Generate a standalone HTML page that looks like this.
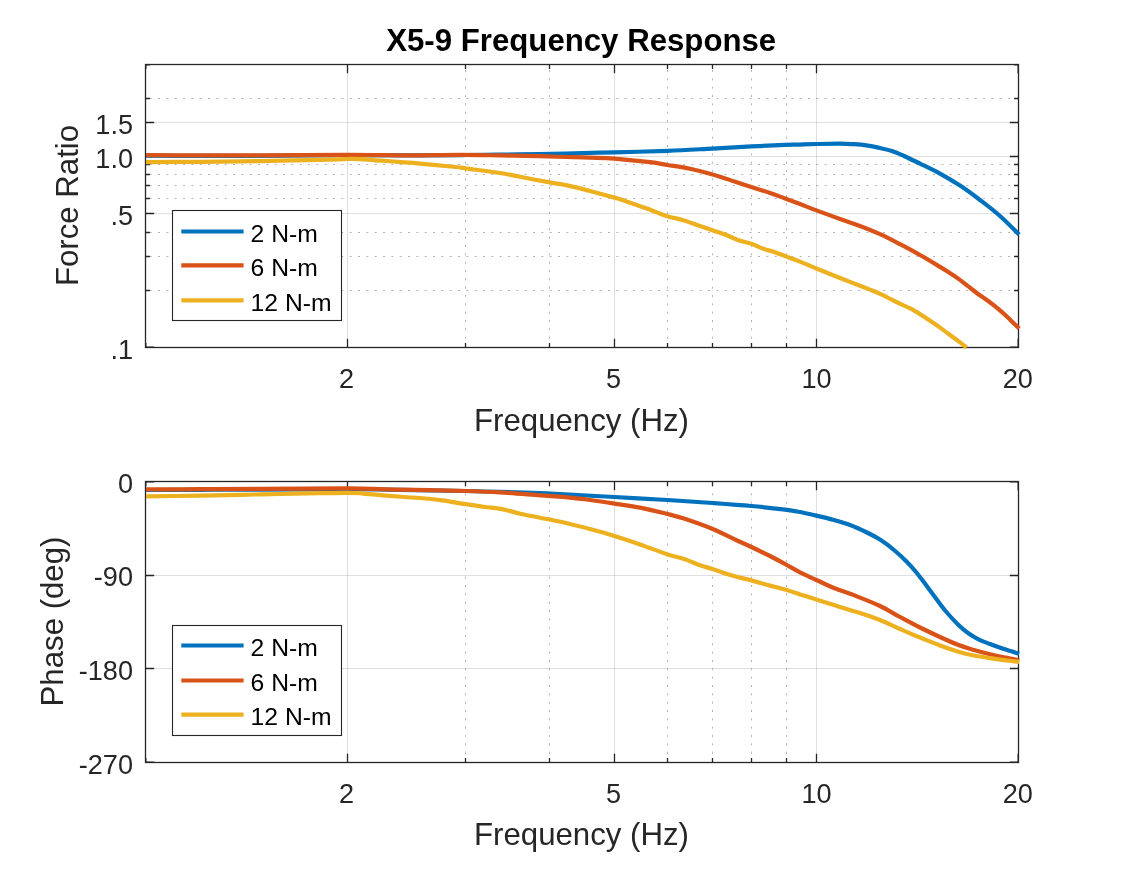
<!DOCTYPE html><html><head><meta charset="utf-8"><title>X5-9 Frequency Response</title>
<style>html,body{margin:0;padding:0;background:#fff;overflow:hidden}svg{display:block}text{font-family:"Liberation Sans",Arial,Helvetica,sans-serif;fill:#262626}.tk{font-size:27.1px}.lb{font-size:31.2px}.lg{font-size:24.7px;fill:#000}.tt{font-size:31.2px;font-weight:bold;fill:#000}</style></head><body>
<svg width="1125" height="875" viewBox="0 0 1125 875">
<rect width="1125" height="875" fill="#fff"/>
<defs><clipPath id="c1"><rect x="146.0" y="64.0" width="877.0" height="288.0"/></clipPath><clipPath id="c2"><rect x="146.0" y="481.0" width="877.0" height="286.0"/></clipPath></defs>
<line x1="347.5" y1="64.5" x2="347.5" y2="347.5" stroke="#262626" stroke-opacity="0.15" stroke-width="1"/>
<line x1="614.5" y1="64.5" x2="614.5" y2="347.5" stroke="#262626" stroke-opacity="0.15" stroke-width="1"/>
<line x1="816.5" y1="64.5" x2="816.5" y2="347.5" stroke="#262626" stroke-opacity="0.15" stroke-width="1"/>
<line x1="145.5" y1="122.5" x2="1018.5" y2="122.5" stroke="#262626" stroke-opacity="0.15" stroke-width="1"/>
<line x1="145.5" y1="156.5" x2="1018.5" y2="156.5" stroke="#262626" stroke-opacity="0.15" stroke-width="1"/>
<line x1="145.5" y1="213.5" x2="1018.5" y2="213.5" stroke="#262626" stroke-opacity="0.15" stroke-width="1"/>
<line x1="465.5" y1="347.0" x2="465.5" y2="64.5" stroke="#262626" stroke-opacity="0.34" stroke-width="1" stroke-dasharray="2 6.333"/>
<line x1="549.5" y1="347.0" x2="549.5" y2="64.5" stroke="#262626" stroke-opacity="0.34" stroke-width="1" stroke-dasharray="2 6.333"/>
<line x1="667.5" y1="347.0" x2="667.5" y2="64.5" stroke="#262626" stroke-opacity="0.34" stroke-width="1" stroke-dasharray="2 6.333"/>
<line x1="712.5" y1="347.0" x2="712.5" y2="64.5" stroke="#262626" stroke-opacity="0.34" stroke-width="1" stroke-dasharray="2 6.333"/>
<line x1="751.5" y1="347.0" x2="751.5" y2="64.5" stroke="#262626" stroke-opacity="0.34" stroke-width="1" stroke-dasharray="2 6.333"/>
<line x1="786.5" y1="347.0" x2="786.5" y2="64.5" stroke="#262626" stroke-opacity="0.34" stroke-width="1" stroke-dasharray="2 6.333"/>
<line x1="145.5" y1="98.5" x2="1018.5" y2="98.5" stroke="#262626" stroke-opacity="0.34" stroke-width="1" stroke-dasharray="2 6.333" stroke-dashoffset="-4.2"/>
<line x1="145.5" y1="164.5" x2="1018.5" y2="164.5" stroke="#262626" stroke-opacity="0.34" stroke-width="1" stroke-dasharray="2 6.333" stroke-dashoffset="-4.2"/>
<line x1="145.5" y1="174.5" x2="1018.5" y2="174.5" stroke="#262626" stroke-opacity="0.34" stroke-width="1" stroke-dasharray="2 6.333" stroke-dashoffset="-4.2"/>
<line x1="145.5" y1="185.5" x2="1018.5" y2="185.5" stroke="#262626" stroke-opacity="0.34" stroke-width="1" stroke-dasharray="2 6.333" stroke-dashoffset="-4.2"/>
<line x1="145.5" y1="198.5" x2="1018.5" y2="198.5" stroke="#262626" stroke-opacity="0.34" stroke-width="1" stroke-dasharray="2 6.333" stroke-dashoffset="-4.2"/>
<line x1="145.5" y1="232.5" x2="1018.5" y2="232.5" stroke="#262626" stroke-opacity="0.34" stroke-width="1" stroke-dasharray="2 6.333" stroke-dashoffset="-4.2"/>
<line x1="145.5" y1="256.5" x2="1018.5" y2="256.5" stroke="#262626" stroke-opacity="0.34" stroke-width="1" stroke-dasharray="2 6.333" stroke-dashoffset="-4.2"/>
<line x1="145.5" y1="290.5" x2="1018.5" y2="290.5" stroke="#262626" stroke-opacity="0.34" stroke-width="1" stroke-dasharray="2 6.333" stroke-dashoffset="-4.2"/>
<rect x="145.5" y="64.5" width="873.0" height="283.0" fill="none" stroke="#262626" stroke-width="1.3"/>
<path d="M347.5 347.5v-8.7M347.5 64.5v8.7M614.5 347.5v-8.7M614.5 64.5v8.7M816.5 347.5v-8.7M816.5 64.5v8.7M465.5 347.5v-4.4M465.5 64.5v4.4M549.5 347.5v-4.4M549.5 64.5v4.4M667.5 347.5v-4.4M667.5 64.5v4.4M712.5 347.5v-4.4M712.5 64.5v4.4M751.5 347.5v-4.4M751.5 64.5v4.4M786.5 347.5v-4.4M786.5 64.5v4.4M145.5 122.5h8.7M1018.5 122.5h-8.7M145.5 156.5h8.7M1018.5 156.5h-8.7M145.5 213.5h8.7M1018.5 213.5h-8.7M145.5 98.5h4.4M1018.5 98.5h-4.4M145.5 164.5h4.4M1018.5 164.5h-4.4M145.5 174.5h4.4M1018.5 174.5h-4.4M145.5 185.5h4.4M1018.5 185.5h-4.4M145.5 198.5h4.4M1018.5 198.5h-4.4M145.5 232.5h4.4M1018.5 232.5h-4.4M145.5 256.5h4.4M1018.5 256.5h-4.4M145.5 290.5h4.4M1018.5 290.5h-4.4M1018.15 64.5v8.7M1018.15 347.5v-8.7M145.85 64.5v4.4M145.85 347.5v-4.4M145.5 347.15h8.7M1018.5 347.15h-8.7M145.5 64.85h4.4M1018.5 64.85h-4.4" stroke="#262626" stroke-width="1.3" fill="none"/>
<g clip-path="url(#c1)" fill="none" stroke-width="4.2" stroke-linejoin="round">
<path d="M145.5 155.7 C154.6 155.7 180.9 155.8 200.0 155.8 C219.1 155.8 235.4 155.9 260.0 155.8 C284.6 155.7 320.8 155.3 347.5 155.2 C374.2 155.1 400.3 155.3 420.0 155.3 C439.7 155.3 452.3 155.1 465.6 155.0 C478.9 154.9 487.6 154.9 500.0 154.7 C512.4 154.5 529.2 154.2 540.0 154.0 C550.8 153.8 552.6 153.8 565.0 153.5 C577.4 153.2 597.3 152.8 614.4 152.4 C631.5 152.0 651.2 151.4 667.6 150.8 C684.0 150.2 698.6 149.3 712.6 148.6 C726.6 147.9 739.3 147.0 751.4 146.4 C763.5 145.8 776.9 145.2 785.0 144.9 C793.1 144.6 794.8 144.8 800.0 144.6 C805.2 144.4 809.7 144.2 816.4 144.0 C823.1 143.8 833.7 143.6 840.0 143.6 C846.3 143.6 849.3 143.9 854.0 144.2 C858.7 144.5 863.7 145.0 868.0 145.6 C872.3 146.2 876.0 147.1 880.0 148.0 C884.0 148.9 888.0 149.7 892.0 151.0 C896.0 152.3 899.3 153.9 904.0 156.0 C908.7 158.1 914.0 160.7 920.0 163.6 C926.0 166.5 933.3 169.9 940.0 173.6 C946.7 177.3 953.3 181.2 960.0 185.6 C966.7 190.0 973.3 194.9 980.0 200.0 C986.7 205.1 993.5 210.2 1000.0 216.0 C1006.5 221.8 1016.0 231.5 1019.2 234.6" stroke="#0072BD"/>
<path d="M145.5 155.2 C154.6 155.2 180.9 155.3 200.0 155.3 C219.1 155.3 235.4 155.4 260.0 155.3 C284.6 155.2 324.2 154.8 347.5 154.8 C370.8 154.8 387.9 155.2 400.0 155.3 C412.1 155.4 410.0 155.5 420.0 155.4 C430.0 155.3 446.7 154.9 460.0 154.9 C473.3 154.9 486.7 155.2 500.0 155.4 C513.3 155.6 529.2 155.9 540.0 156.2 C550.8 156.5 556.7 156.8 565.0 157.0 C573.3 157.2 581.8 157.3 590.0 157.6 C598.2 157.9 604.4 157.8 614.4 158.6 C624.4 159.4 641.1 161.1 650.0 162.2 C658.9 163.3 660.9 163.9 667.6 165.0 C674.3 166.1 682.5 167.2 690.0 168.8 C697.5 170.4 704.9 172.2 712.6 174.4 C720.3 176.6 729.5 179.9 736.0 182.0 C742.5 184.1 745.7 185.2 751.4 187.0 C757.1 188.8 764.4 191.1 770.0 193.0 C775.6 194.9 780.0 196.6 785.0 198.4 C790.0 200.2 794.8 202.0 800.0 204.0 C805.2 206.0 809.7 207.9 816.4 210.4 C823.1 212.9 832.7 216.4 840.0 219.0 C847.3 221.6 853.3 223.5 860.0 226.0 C866.7 228.5 873.3 231.2 880.0 234.2 C886.7 237.2 893.3 240.7 900.0 244.2 C906.7 247.7 913.3 251.2 920.0 255.0 C926.7 258.8 935.2 264.0 940.0 266.9 C944.8 269.8 945.5 270.3 948.6 272.3 C951.8 274.3 955.6 276.8 958.9 279.1 C962.2 281.5 965.2 284.0 968.3 286.4 C971.4 288.8 974.6 291.4 977.7 293.7 C980.8 296.0 984.2 298.1 987.1 300.2 C990.0 302.3 992.3 304.0 994.9 306.1 C997.5 308.2 1000.0 310.3 1002.6 312.6 C1005.2 314.9 1007.5 317.2 1010.3 319.9 C1013.1 322.6 1017.7 327.1 1019.2 328.6" stroke="#D95319"/>
<path d="M145.5 162.2 C154.6 162.1 180.9 162.0 200.0 161.8 C219.1 161.6 240.0 161.4 260.0 161.1 C280.0 160.8 305.4 160.2 320.0 159.9 C334.6 159.6 340.8 159.1 347.5 159.0 C354.2 158.9 354.6 158.9 360.0 159.2 C365.4 159.5 370.0 159.9 380.0 160.6 C390.0 161.3 407.3 162.5 420.0 163.6 C432.7 164.7 448.4 166.2 456.0 167.0 C463.6 167.8 458.3 167.4 465.6 168.4 C472.9 169.4 490.9 171.6 500.0 173.0 C509.1 174.4 511.7 175.2 520.0 176.8 C528.3 178.4 542.1 181.0 549.6 182.4 C557.1 183.8 559.9 184.0 565.0 185.0 C570.1 186.0 571.8 186.3 580.0 188.4 C588.2 190.5 607.7 195.8 614.4 197.6 C621.1 199.4 615.1 197.6 620.0 199.3 C624.9 201.0 637.9 205.4 644.0 207.6 C650.1 209.8 652.8 210.9 656.8 212.4 C660.8 213.9 663.5 215.1 668.0 216.4 C672.5 217.7 678.7 218.8 684.0 220.4 C689.3 222.0 695.3 224.4 700.0 226.0 C704.7 227.6 708.0 228.7 712.3 230.2 C716.6 231.7 721.2 233.1 725.6 234.8 C730.0 236.5 734.1 238.7 738.4 240.2 C742.7 241.7 746.9 242.3 751.2 243.8 C755.5 245.3 760.3 247.7 764.0 249.0 C767.7 250.3 769.9 250.5 773.6 251.8 C777.3 253.1 782.0 255.0 786.4 256.6 C790.8 258.2 795.0 259.6 800.0 261.6 C805.0 263.6 809.7 265.8 816.4 268.5 C823.1 271.2 832.7 275.1 840.0 278.0 C847.3 280.9 853.3 283.2 860.0 285.8 C866.7 288.4 873.3 290.8 880.0 293.8 C886.7 296.8 895.0 301.3 900.0 303.7 C905.0 306.1 906.4 306.5 909.7 308.2 C913.0 309.9 916.7 312.1 920.0 314.1 C923.3 316.2 926.5 318.3 929.7 320.5 C932.9 322.7 936.2 324.8 939.4 327.1 C942.6 329.4 945.8 331.8 949.0 334.2 C952.2 336.6 955.8 339.1 958.7 341.3 C961.6 343.5 965.3 346.5 966.6 347.5" stroke="#EDB120"/>
</g>
<line x1="347.5" y1="481.5" x2="347.5" y2="762.5" stroke="#262626" stroke-opacity="0.15" stroke-width="1"/>
<line x1="614.5" y1="481.5" x2="614.5" y2="762.5" stroke="#262626" stroke-opacity="0.15" stroke-width="1"/>
<line x1="816.5" y1="481.5" x2="816.5" y2="762.5" stroke="#262626" stroke-opacity="0.15" stroke-width="1"/>
<line x1="145.5" y1="575.5" x2="1018.5" y2="575.5" stroke="#262626" stroke-opacity="0.15" stroke-width="1"/>
<line x1="145.5" y1="668.5" x2="1018.5" y2="668.5" stroke="#262626" stroke-opacity="0.15" stroke-width="1"/>
<line x1="465.5" y1="762.0" x2="465.5" y2="481.5" stroke="#262626" stroke-opacity="0.34" stroke-width="1" stroke-dasharray="2 6.333"/>
<line x1="549.5" y1="762.0" x2="549.5" y2="481.5" stroke="#262626" stroke-opacity="0.34" stroke-width="1" stroke-dasharray="2 6.333"/>
<line x1="667.5" y1="762.0" x2="667.5" y2="481.5" stroke="#262626" stroke-opacity="0.34" stroke-width="1" stroke-dasharray="2 6.333"/>
<line x1="712.5" y1="762.0" x2="712.5" y2="481.5" stroke="#262626" stroke-opacity="0.34" stroke-width="1" stroke-dasharray="2 6.333"/>
<line x1="751.5" y1="762.0" x2="751.5" y2="481.5" stroke="#262626" stroke-opacity="0.34" stroke-width="1" stroke-dasharray="2 6.333"/>
<line x1="786.5" y1="762.0" x2="786.5" y2="481.5" stroke="#262626" stroke-opacity="0.34" stroke-width="1" stroke-dasharray="2 6.333"/>
<rect x="145.5" y="481.5" width="873.0" height="281.0" fill="none" stroke="#262626" stroke-width="1.3"/>
<path d="M347.5 762.5v-8.7M347.5 481.5v8.7M614.5 762.5v-8.7M614.5 481.5v8.7M816.5 762.5v-8.7M816.5 481.5v8.7M465.5 762.5v-4.4M465.5 481.5v4.4M549.5 762.5v-4.4M549.5 481.5v4.4M667.5 762.5v-4.4M667.5 481.5v4.4M712.5 762.5v-4.4M712.5 481.5v4.4M751.5 762.5v-4.4M751.5 481.5v4.4M786.5 762.5v-4.4M786.5 481.5v4.4M145.5 575.5h8.7M1018.5 575.5h-8.7M145.5 668.5h8.7M1018.5 668.5h-8.7M1018.15 481.5v8.7M1018.15 762.5v-8.7M145.85 481.5v4.4M145.85 762.5v-4.4M145.5 762.15h8.7M1018.5 762.15h-8.7M145.5 481.85h8.7M1018.5 481.85h-8.7" stroke="#262626" stroke-width="1.3" fill="none"/>
<g clip-path="url(#c2)" fill="none" stroke-width="4.2" stroke-linejoin="round">
<path d="M145.5 490.0 C154.6 490.0 180.9 489.9 200.0 489.8 C219.1 489.7 235.4 489.7 260.0 489.6 C284.6 489.5 324.2 489.2 347.5 489.2 C370.8 489.2 380.3 489.5 400.0 489.8 C419.7 490.1 448.9 490.7 465.6 491.0 C482.3 491.3 487.6 491.4 500.0 491.8 C512.4 492.2 529.2 492.8 540.0 493.2 C550.8 493.6 552.6 493.8 565.0 494.4 C577.4 495.0 597.3 496.1 614.4 497.0 C631.5 497.9 651.2 499.0 667.6 500.0 C684.0 501.0 698.6 502.0 712.6 503.0 C726.6 504.0 739.3 504.9 751.4 506.0 C763.5 507.1 776.9 508.6 785.0 509.6 C793.1 510.6 794.8 511.0 800.0 512.0 C805.2 513.0 810.7 514.3 816.4 515.6 C822.1 516.9 828.4 518.4 834.0 520.0 C839.6 521.6 844.7 523.0 850.0 525.0 C855.3 527.0 861.0 529.6 866.0 532.0 C871.0 534.4 875.3 536.6 880.0 539.6 C884.7 542.6 889.7 546.4 894.0 550.0 C898.3 553.6 902.3 557.3 906.0 561.0 C909.7 564.7 912.7 568.0 916.0 572.0 C919.3 576.0 922.7 580.6 926.0 585.0 C929.3 589.4 932.7 594.1 936.0 598.5 C939.3 602.9 942.3 607.2 946.0 611.5 C949.7 615.8 954.3 620.9 958.0 624.5 C961.7 628.1 964.5 630.5 968.0 633.0 C971.5 635.5 975.3 637.8 979.0 639.6 C982.7 641.4 985.8 642.4 990.0 644.0 C994.2 645.6 999.1 647.4 1004.0 649.0 C1008.9 650.6 1016.7 653.0 1019.2 653.8" stroke="#0072BD"/>
<path d="M145.5 489.4 C154.6 489.4 180.9 489.3 200.0 489.2 C219.1 489.1 235.4 489.0 260.0 488.9 C284.6 488.8 324.2 488.3 347.5 488.4 C370.8 488.5 380.3 489.2 400.0 489.6 C419.7 490.0 448.9 490.5 465.6 491.0 C482.3 491.5 487.6 491.7 500.0 492.4 C512.4 493.1 529.2 494.6 540.0 495.4 C550.8 496.2 556.7 496.4 565.0 497.2 C573.3 498.0 581.8 498.9 590.0 500.0 C598.2 501.1 606.1 502.3 614.4 503.6 C622.7 504.9 631.1 505.9 640.0 507.6 C648.9 509.3 660.3 512.2 667.6 514.0 C674.9 515.8 676.5 516.1 684.0 518.6 C691.5 521.1 703.9 525.4 712.6 529.0 C721.3 532.6 729.5 537.0 736.0 540.0 C742.5 543.0 745.7 544.3 751.4 547.0 C757.1 549.7 764.4 553.2 770.0 556.0 C775.6 558.8 780.0 561.3 785.0 564.0 C790.0 566.7 794.8 569.7 800.0 572.4 C805.2 575.1 810.7 577.4 816.4 580.0 C822.1 582.6 827.4 585.3 834.0 588.0 C840.6 590.7 848.3 593.0 856.0 596.0 C863.7 599.0 872.7 602.5 880.0 606.0 C887.3 609.5 893.3 613.4 900.0 617.0 C906.7 620.6 913.3 624.2 920.0 627.5 C926.7 630.8 933.7 634.1 940.0 637.0 C946.3 639.9 952.3 642.6 958.0 644.8 C963.7 647.0 968.7 648.5 974.0 650.1 C979.3 651.7 984.7 653.0 990.0 654.2 C995.3 655.5 1001.1 656.6 1006.0 657.6 C1010.9 658.6 1017.0 660.0 1019.2 660.4" stroke="#D95319"/>
<path d="M145.5 496.4 C154.6 496.3 184.2 495.9 200.0 495.6 C215.8 495.3 226.7 495.1 240.0 494.8 C253.3 494.5 266.7 494.3 280.0 494.0 C293.3 493.7 308.8 493.4 320.0 493.2 C331.2 493.0 340.6 492.8 347.5 492.8 C354.4 492.8 355.4 492.9 361.3 493.3 C367.2 493.7 375.6 494.7 382.7 495.3 C389.8 495.9 396.9 496.5 404.0 497.0 C411.1 497.5 419.2 498.0 425.3 498.5 C431.4 499.0 435.7 499.6 440.3 500.2 C444.9 500.8 448.8 501.4 453.0 502.1 C457.2 502.8 460.1 503.4 465.4 504.2 C470.7 505.0 478.9 506.2 485.0 507.0 C491.1 507.8 495.9 507.9 502.0 509.1 C508.1 510.3 513.5 512.3 521.3 514.0 C529.1 515.7 541.5 517.9 549.0 519.4 C556.5 520.9 559.2 521.4 566.0 523.0 C572.8 524.6 581.9 526.8 590.0 529.0 C598.1 531.2 606.1 533.4 614.4 536.0 C622.7 538.6 631.1 541.3 640.0 544.4 C648.9 547.5 660.3 552.0 667.6 554.4 C674.9 556.8 678.6 557.2 684.0 559.0 C689.4 560.8 695.2 563.5 700.0 565.2 C704.8 566.9 707.6 567.4 712.6 569.0 C717.6 570.6 723.5 573.1 730.0 575.0 C736.5 576.9 744.7 578.6 751.4 580.4 C758.1 582.2 764.4 584.1 770.0 585.6 C775.6 587.1 780.0 588.1 785.0 589.6 C790.0 591.1 794.8 592.7 800.0 594.4 C805.2 596.1 809.7 597.5 816.4 599.6 C823.1 601.7 832.7 604.8 840.0 607.0 C847.3 609.2 853.3 610.8 860.0 613.0 C866.7 615.2 873.3 617.3 880.0 620.0 C886.7 622.7 893.3 626.1 900.0 629.0 C906.7 631.9 913.3 634.8 920.0 637.5 C926.7 640.2 933.3 643.0 940.0 645.5 C946.7 648.0 954.3 650.5 960.0 652.2 C965.7 653.9 969.0 654.5 974.0 655.5 C979.0 656.5 984.7 657.3 990.0 658.1 C995.3 658.9 1001.1 659.7 1006.0 660.3 C1010.9 660.9 1017.0 661.7 1019.2 662.0" stroke="#EDB120"/>
</g>
<text x="346.5" y="387.7" class="tk" text-anchor="middle">2</text>
<text x="613.5" y="387.7" class="tk" text-anchor="middle">5</text>
<text x="816.5" y="387.7" class="tk" text-anchor="middle">10</text>
<text x="1017.8" y="387.7" class="tk" text-anchor="middle">20</text>
<text x="581.5" y="431.0" class="lb" text-anchor="middle">Frequency (Hz)</text>
<text x="346.5" y="802.7" class="tk" text-anchor="middle">2</text>
<text x="613.5" y="802.7" class="tk" text-anchor="middle">5</text>
<text x="816.5" y="802.7" class="tk" text-anchor="middle">10</text>
<text x="1017.8" y="802.7" class="tk" text-anchor="middle">20</text>
<text x="581.5" y="845.0" class="lb" text-anchor="middle">Frequency (Hz)</text>
<text x="133.0" y="134.0" class="tk" text-anchor="end">1.5</text>
<text x="133.0" y="168.0" class="tk" text-anchor="end">1.0</text>
<text x="133.0" y="225.0" class="tk" text-anchor="end">.5</text>
<text x="133.0" y="359.0" class="tk" text-anchor="end">.1</text>
<text x="133.0" y="493.0" class="tk" text-anchor="end">0</text>
<text x="133.0" y="586.0" class="tk" text-anchor="end">-90</text>
<text x="133.0" y="680.0" class="tk" text-anchor="end">-180</text>
<text x="133.0" y="774.0" class="tk" text-anchor="end">-270</text>
<text x="0.0" y="0.0" class="lb" text-anchor="middle" transform="translate(78.2 205.5) rotate(-90)">Force Ratio</text>
<text x="0.0" y="0.0" class="lb" text-anchor="middle" transform="translate(62.6 621.5) rotate(-90)">Phase (deg)</text>
<text x="581.2" y="50.9" class="tt" text-anchor="middle">X5-9 Frequency Response</text>
<rect x="172.5" y="210.5" width="169" height="110" fill="#fff" stroke="#262626" stroke-width="1.1"/>
<line x1="181.3" y1="231.5" x2="243.6" y2="231.5" stroke="#0072BD" stroke-width="4.2"/>
<text x="250.6" y="241.9" class="lg">2 N-m</text>
<line x1="181.3" y1="265.4" x2="243.6" y2="265.4" stroke="#D95319" stroke-width="4.2"/>
<text x="250.6" y="275.8" class="lg">6 N-m</text>
<line x1="181.3" y1="300.4" x2="243.6" y2="300.4" stroke="#EDB120" stroke-width="4.2"/>
<text x="250.6" y="310.8" class="lg">12 N-m</text>
<rect x="172.5" y="625.5" width="169" height="110" fill="#fff" stroke="#262626" stroke-width="1.1"/>
<line x1="181.3" y1="645.5" x2="243.6" y2="645.5" stroke="#0072BD" stroke-width="4.2"/>
<text x="250.6" y="655.9" class="lg">2 N-m</text>
<line x1="181.3" y1="680.5" x2="243.6" y2="680.5" stroke="#D95319" stroke-width="4.2"/>
<text x="250.6" y="690.9" class="lg">6 N-m</text>
<line x1="181.3" y1="714.6" x2="243.6" y2="714.6" stroke="#EDB120" stroke-width="4.2"/>
<text x="250.6" y="725.0" class="lg">12 N-m</text>
</svg></body></html>
